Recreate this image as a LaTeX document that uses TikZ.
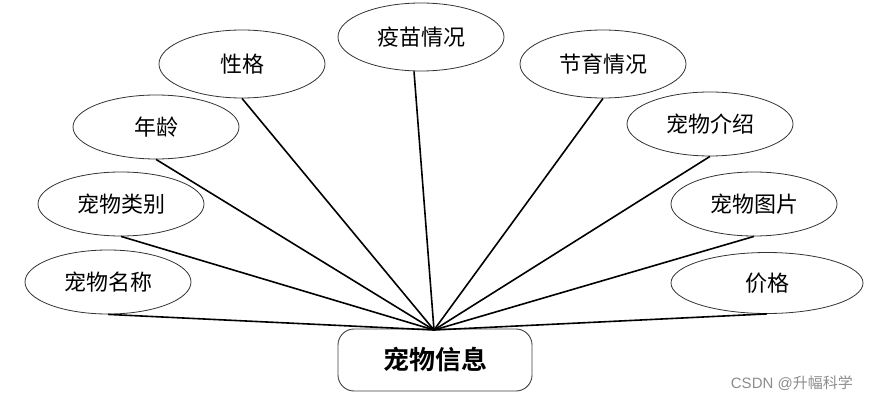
\documentclass[tikz,border=0pt]{standalone}
\usepackage{fontspec}
\newfontfamily\cjk{Noto Sans CJK SC}
\newfontfamily\cjkb{Noto Sans CJK SC Bold}
\newfontfamily\wmfont{Liberation Sans}
\usetikzlibrary{shapes.geometric}
\begin{document}
\begin{tikzpicture}[x=1pt,y=-1pt,
  attr/.style={draw=black!80,line width=0.8pt,ellipse,inner sep=0pt,fill=white,
    minimum width=166pt,minimum height=64pt,font=\cjk\fontsize{22}{22}\selectfont},
  ent/.style={draw=black!75,line width=0.9pt,rounded corners=16pt,fill=white,
    minimum width=194pt,minimum height=62pt,inner sep=0pt,font=\cjkb\fontsize{26}{26}\selectfont},
  link/.style={line width=1.6pt,black}]
\useasboundingbox (0,0) rectangle (869,403);
\node[attr] (mc) at (108,282) {宠物名称};
\node[attr] (lb) at (121,204) {宠物类别};
\node[attr] (nl) at (156,127) {年龄};
\node[attr,minimum height=68pt] (xg) at (242,64) {性格};
\node[attr,minimum height=68pt] (ym) at (421,37) {疫苗情况};
\node[attr,minimum height=68pt] (jy) at (603,64) {节育情况};
\node[attr] (js) at (710,124) {宠物介绍};
\node[attr] (tp) at (754,204) {宠物图片};
\node[attr,minimum width=192pt,minimum height=61pt] (jg) at (767,283) {价格};
\node[ent] (c) at (435,360) {宠物信息};
\coordinate (hub) at (434,330);
\foreach \n in {mc,lb,nl,xg,jy,js,tp,jg}
  \draw[link] (\n.south) -- (hub);
\draw[link] ([xshift=-7pt]ym.south) -- (hub);
\node[text=black!45,font=\fontsize{15}{15}\selectfont,anchor=east,inner sep=0pt] (wm) at (853,383) {\wmfont CSDN @\cjk 升幅科学};
\end{tikzpicture}
\end{document}
